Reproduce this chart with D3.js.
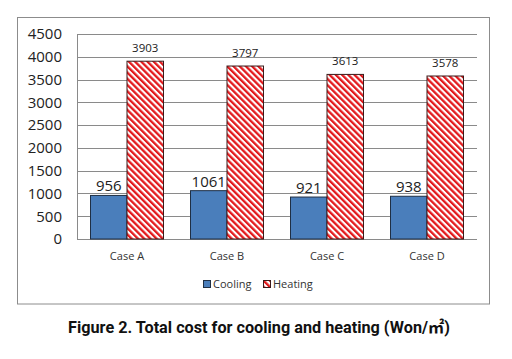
<!DOCTYPE html>
<html>
<head>
<meta charset="utf-8">
<script src="https://cdn.jsdelivr.net/npm/d3@7"></script>
<style>
  html, body { margin: 0; padding: 0; background: #fff; }
  svg { display: block; }
</style>
</head>
<body>
<svg id="chart" width="512" height="359"></svg>
<script>
const categories = ["Case A", "Case B", "Case C", "Case D"];
const seriesNames = ["Cooling", "Heating"];
const cooling = [956, 1061, 921, 938];
const heating = [3903, 3797, 3613, 3578];
const yTicks = [0, 500, 1000, 1500, 2000, 2500, 3000, 3500, 4000, 4500];
const caption = "Figure 2. Total cost for cooling and heating (Won/㎡)";

const svg = d3.select("#chart");
const font = "'Open Sans', 'Noto Sans', sans-serif";

// pattern for heating
const defs = svg.append("defs");
const pat = defs.append("pattern")
  .attr("id", "hatch")
  .attr("patternUnits", "userSpaceOnUse")
  .attr("width", 4.4).attr("height", 4.4)
  .attr("patternTransform", "rotate(-45)");
pat.append("rect").attr("width", 4.4).attr("height", 4.4).attr("fill", "#fff");
pat.append("rect").attr("width", 2.3).attr("height", 4.4).attr("fill", "#e3191c");

// outer frame
svg.append("rect")
  .attr("x", 17.5).attr("y", 17.5).attr("width", 472).attr("height", 286.5)
  .attr("fill", "#fff").attr("stroke", "#8c8c8c").attr("stroke-width", 1);

const plot = { left: 77, right: 477, top: 34, bottom: 239 };

const x = d3.scaleBand().domain(categories)
  .range([plot.left, plot.right]).paddingInner(0.27).paddingOuter(0.135);
const xs = d3.scaleBand().domain(seriesNames).range([0, x.bandwidth()]);
const y = d3.scaleLinear().domain([0, 4500]).range([plot.bottom, plot.top]);

// gridlines
svg.append("g").selectAll("line").data(yTicks).join("line")
  .attr("x1", plot.left).attr("x2", plot.right)
  .attr("y1", d => Math.round(y(d)) + 0.5).attr("y2", d => Math.round(y(d)) + 0.5)
  .attr("stroke", "#8a8a8a").attr("stroke-width", 1);

// left axis line
svg.append("line")
  .attr("x1", plot.left + 0.5).attr("x2", plot.left + 0.5)
  .attr("y1", plot.top).attr("y2", plot.bottom + 0.5)
  .attr("stroke", "#8a8a8a");

// y axis labels
const yAxis = d3.axisLeft(y).tickValues(yTicks).tickFormat(d3.format("d")).tickSize(0).tickPadding(15);
const gy = svg.append("g").attr("transform", `translate(${plot.left},0)`).call(yAxis);
gy.select(".domain").remove();
gy.selectAll("text").attr("font-family", font).attr("font-size", 15).attr("fill", "#222");

// x axis labels
const xAxis = d3.axisBottom(x).tickSize(0).tickPadding(13);
const gx = svg.append("g").attr("transform", `translate(0,${plot.bottom})`).call(xAxis);
gx.select(".domain").remove();
gx.selectAll("text").attr("font-family", font).attr("font-size", 11).attr("fill", "#333");

// bars
const groups = svg.append("g").selectAll("g").data(categories).join("g")
  .attr("transform", d => `translate(${x(d)},0)`);

groups.append("rect")
  .attr("x", xs("Cooling"))
  .attr("y", (d, i) => y(cooling[i]))
  .attr("width", xs.bandwidth())
  .attr("height", (d, i) => y(0) - y(cooling[i]))
  .attr("fill", "#4a7ebb").attr("stroke", "#1f2f44").attr("stroke-width", 1);

groups.append("rect")
  .attr("x", xs("Heating"))
  .attr("y", (d, i) => y(heating[i]))
  .attr("width", xs.bandwidth())
  .attr("height", (d, i) => y(0) - y(heating[i]))
  .attr("fill", "url(#hatch)").attr("stroke", "#3a1a1a").attr("stroke-width", 1);

// value labels
groups.append("text")
  .attr("x", xs("Cooling") + xs.bandwidth() / 2)
  .attr("y", (d, i) => y(cooling[i]) - 4)
  .attr("text-anchor", "middle")
  .attr("font-family", font).attr("font-size", 15).attr("fill", "#222")
  .text((d, i) => cooling[i]);

groups.append("text")
  .attr("x", xs("Heating") + xs.bandwidth() / 2)
  .attr("y", (d, i) => y(heating[i]) - 9.5)
  .attr("text-anchor", "middle")
  .attr("font-family", font).attr("font-size", 11.5).attr("fill", "#222")
  .text((d, i) => heating[i]);

// legend
const legend = svg.append("g");
legend.append("rect").attr("x", 203.5).attr("y", 280.5).attr("width", 7).attr("height", 7)
  .attr("fill", "#4a7ebb").attr("stroke", "#1f2f44");
legend.append("text").attr("x", 213).attr("y", 288)
  .attr("font-family", font).attr("font-size", 11).attr("fill", "#333").text(seriesNames[0]);
legend.append("rect").attr("x", 263.5).attr("y", 280.5).attr("width", 7).attr("height", 7)
  .attr("fill", "url(#hatch)").attr("stroke", "#3a1a1a");
legend.append("text").attr("x", 273).attr("y", 288)
  .attr("font-family", font).attr("font-size", 11).attr("fill", "#333").text(seriesNames[1]);

// caption
const cap = svg.append("text")
  .attr("x", 259).attr("y", 333)
  .attr("text-anchor", "middle")
  .attr("font-family", "Roboto, 'Noto Sans CJK KR', sans-serif")
  .attr("font-weight", "bold").attr("font-size", 16).attr("fill", "#111")
  .text(caption);
const w = cap.node().getComputedTextLength();
if (w > 0) cap.attr("font-size", Math.min(17, 16 * 382 / w));
</script>
</body>
</html>
